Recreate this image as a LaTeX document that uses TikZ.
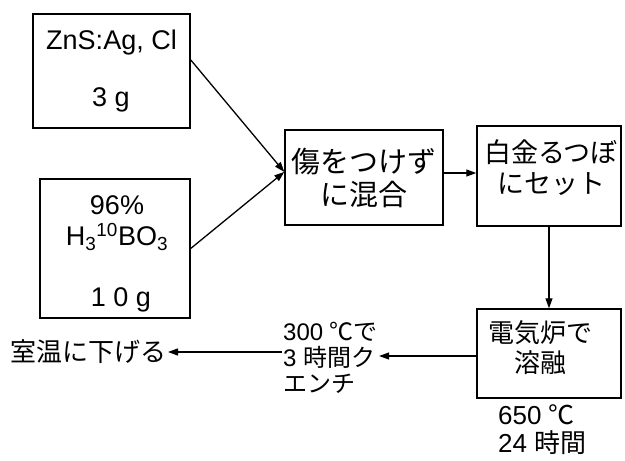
\documentclass[tikz,border=0pt]{standalone}
\usepackage{fontspec}
\setmainfont{Liberation Sans}
\newfontfamily\jp{Noto Sans CJK JP}
\usetikzlibrary{arrows.meta}
\tikzset{
  box/.style={draw, line width=1.4pt, inner sep=0pt},
  txt/.style={inner sep=1pt, anchor=center},
  flow/.style={line width=1.3pt, -{Triangle[length=10pt,width=7pt]}},
}
\newcommand{\fs}[2]{\fontsize{#1}{#2}\selectfont}
\begin{document}
\begin{tikzpicture}[x=1pt,y=-1pt]
\useasboundingbox (0,0) rectangle (625,461);
% boxes
\node[box, minimum width=157pt, minimum height=114pt] (b1) at (111.5,71) {};
\node[box, minimum width=150pt, minimum height=139pt] (b2) at (115,248.5) {};
\node[box, minimum width=158pt, minimum height=95pt] (mix) at (364,177.5) {};
\node[box, minimum width=144pt, minimum height=100pt] (plat) at (549,176) {};
\node[box, minimum width=144pt, minimum height=89pt] (furn) at (549,353.5) {};
% texts in boxes
\node[txt, font=\fs{27}{30}] (t1a) at (111.5,43) {ZnS:Ag, Cl};
\node[txt, font=\fs{27}{30}] (t1b) at (111,100) {3 g};
\node[txt, font=\fs{27}{30}] (t2a) at (117,205) {96\%};
\node[txt, font=\fs{27}{30}] (t2b) at (117,237) {H\textsubscript{3}\textsuperscript{10}BO\textsubscript{3}};
\node[txt, font=\fs{27}{30}] (t2c) at (121,300) {1 0 g};
\node[txt, align=center, font=\jp\fs{29}{33}] (tm) at (364,178) {傷をつけず\\に混合};
\node[txt, align=center, font=\jp\fs{27}{31}] (tp) at (551,168) {白金るつぼ\\にセット};
\node[txt, align=center, font=\jp\fs{26}{30}] (tf) at (540,348) {電気炉で\\溶融};
% free texts
\node[txt, align=left, anchor=west, font=\fs{24}{26}] (q) at (282,358) {300 {\jp ℃で}\\3 {\jp 時間ク}\\{\jp エンチ}};
\node[txt, anchor=east, font=\jp\fs{26}{30}] (r) at (168,352) {室温に下げる};
\node[txt, align=left, anchor=west, font=\fs{26}{28}] (c) at (497,430) {650 {\jp ℃}\\24 {\jp 時間}};
% connectors
\draw[flow] (b1.8) -- (mix.176);
\draw[flow] (b2.east) -- (mix.176);
\draw[flow] (mix.east |- 0,173) -- (plat.west |- 0,173);
\draw[flow] (plat.south) -- (furn.north);
\draw[flow] (furn.west |- 0,356) -- (q.east |- 0,356);
\draw[flow] (q.west |- 0,352) -- (r.east |- 0,352);
\end{tikzpicture}
\end{document}
